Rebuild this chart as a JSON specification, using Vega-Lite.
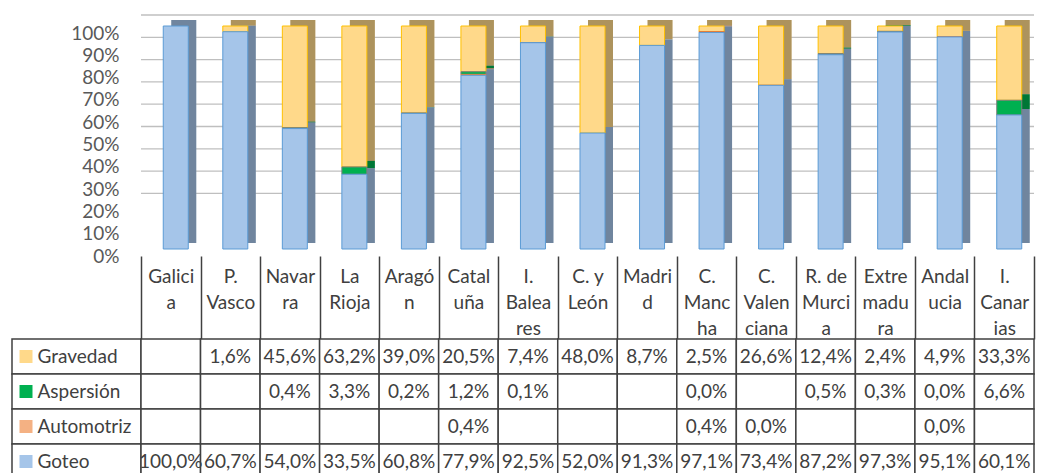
{
  "$schema": "https://vega.github.io/schema/vega-lite/v6.json",
  "background": "white",
  "padding": {"left": 11, "top": 14, "right": 5, "bottom": 0},
  "columns": 2,
  "spacing": {"row": 90, "column": 0},
  "bounds": "flush",
  "datasets": {
    "d": [
      {"region": "Galicia", "series": "Gravedad", "v": null},
      {"region": "Galicia", "series": "Aspersión", "v": null},
      {"region": "Galicia", "series": "Automotriz", "v": null},
      {"region": "Galicia", "series": "Goteo", "v": 1.0},
      {"region": "P. Vasco", "series": "Gravedad", "v": 0.016},
      {"region": "P. Vasco", "series": "Aspersión", "v": null},
      {"region": "P. Vasco", "series": "Automotriz", "v": null},
      {"region": "P. Vasco", "series": "Goteo", "v": 0.607},
      {"region": "Navarra", "series": "Gravedad", "v": 0.456},
      {"region": "Navarra", "series": "Aspersión", "v": 0.004},
      {"region": "Navarra", "series": "Automotriz", "v": null},
      {"region": "Navarra", "series": "Goteo", "v": 0.540},
      {"region": "La Rioja", "series": "Gravedad", "v": 0.632},
      {"region": "La Rioja", "series": "Aspersión", "v": 0.033},
      {"region": "La Rioja", "series": "Automotriz", "v": null},
      {"region": "La Rioja", "series": "Goteo", "v": 0.335},
      {"region": "Aragón", "series": "Gravedad", "v": 0.390},
      {"region": "Aragón", "series": "Aspersión", "v": 0.002},
      {"region": "Aragón", "series": "Automotriz", "v": null},
      {"region": "Aragón", "series": "Goteo", "v": 0.608},
      {"region": "Cataluña", "series": "Gravedad", "v": 0.205},
      {"region": "Cataluña", "series": "Aspersión", "v": 0.012},
      {"region": "Cataluña", "series": "Automotriz", "v": 0.004},
      {"region": "Cataluña", "series": "Goteo", "v": 0.779},
      {"region": "I. Baleares", "series": "Gravedad", "v": 0.074},
      {"region": "I. Baleares", "series": "Aspersión", "v": 0.001},
      {"region": "I. Baleares", "series": "Automotriz", "v": null},
      {"region": "I. Baleares", "series": "Goteo", "v": 0.925},
      {"region": "C. y León", "series": "Gravedad", "v": 0.480},
      {"region": "C. y León", "series": "Aspersión", "v": null},
      {"region": "C. y León", "series": "Automotriz", "v": null},
      {"region": "C. y León", "series": "Goteo", "v": 0.520},
      {"region": "Madrid", "series": "Gravedad", "v": 0.087},
      {"region": "Madrid", "series": "Aspersión", "v": null},
      {"region": "Madrid", "series": "Automotriz", "v": null},
      {"region": "Madrid", "series": "Goteo", "v": 0.913},
      {"region": "C. Mancha", "series": "Gravedad", "v": 0.025},
      {"region": "C. Mancha", "series": "Aspersión", "v": 0.0},
      {"region": "C. Mancha", "series": "Automotriz", "v": 0.004},
      {"region": "C. Mancha", "series": "Goteo", "v": 0.971},
      {"region": "C. Valenciana", "series": "Gravedad", "v": 0.266},
      {"region": "C. Valenciana", "series": "Aspersión", "v": null},
      {"region": "C. Valenciana", "series": "Automotriz", "v": 0.0},
      {"region": "C. Valenciana", "series": "Goteo", "v": 0.734},
      {"region": "R. de Murcia", "series": "Gravedad", "v": 0.124},
      {"region": "R. de Murcia", "series": "Aspersión", "v": 0.005},
      {"region": "R. de Murcia", "series": "Automotriz", "v": null},
      {"region": "R. de Murcia", "series": "Goteo", "v": 0.872},
      {"region": "Extremadura", "series": "Gravedad", "v": 0.024},
      {"region": "Extremadura", "series": "Aspersión", "v": 0.003},
      {"region": "Extremadura", "series": "Automotriz", "v": null},
      {"region": "Extremadura", "series": "Goteo", "v": 0.973},
      {"region": "Andalucia", "series": "Gravedad", "v": 0.049},
      {"region": "Andalucia", "series": "Aspersión", "v": 0.0},
      {"region": "Andalucia", "series": "Automotriz", "v": 0.0},
      {"region": "Andalucia", "series": "Goteo", "v": 0.951},
      {"region": "I. Canarias", "series": "Gravedad", "v": 0.333},
      {"region": "I. Canarias", "series": "Aspersión", "v": 0.066},
      {"region": "I. Canarias", "series": "Automotriz", "v": null},
      {"region": "I. Canarias", "series": "Goteo", "v": 0.601}
    ],
    "s": [
      {"series": "Gravedad"},
      {"series": "Aspersión"},
      {"series": "Automotriz"},
      {"series": "Goteo"}
    ],
    "grid": [
      {"v": 0.2}, {"v": 0.3}, {"v": 0.4}, {"v": 0.5}, {"v": 0.6},
      {"v": 0.7}, {"v": 0.8}, {"v": 0.9}, {"v": 1.0}
    ]
  },
  "concat": [
    {
      "width": 129,
      "height": 223,
      "data": {"values": [{"a": 1}]},
      "mark": {"type": "point", "opacity": 0},
      "encoding": {}
    },
    {
      "width": 893,
      "height": 223,
      "data": {"name": "d"},
      "transform": [
        {"calculate": "indexof(['Goteo','Automotriz','Aspersión','Gravedad'], datum.series)", "as": "k"}
      ],
      "layer": [
        {
          "data": {"name": "grid"},
          "mark": {"type": "rule", "yOffset": -11, "color": "#BFBFBF", "strokeWidth": 1.3},
          "encoding": {
            "y": {
              "field": "v", "type": "quantitative", "scale": {"domain": [0, 1], "nice": false},
              "axis": {
                "title": null, "format": ".0%", "values": [0, 0.1, 0.2, 0.3, 0.4, 0.5, 0.6, 0.7, 0.8, 0.9, 1],
                "domain": false, "ticks": false, "grid": false, "labelPadding": 22, "labelOffset": 7,
                "labelOverlap": false, "labelBound": false,
                "labelFont": "Lato", "labelFontSize": 19, "labelColor": "#595959"
              }
            }
          }
        },
        {
          "mark": {"type": "bar", "xOffset": 13, "yOffset": -6, "width": {"band": 0.42}},
          "encoding": {
            "x": {"field": "region", "type": "nominal", "sort": ["Galicia","P. Vasco","Navarra","La Rioja","Aragón","Cataluña","I. Baleares","C. y León","Madrid","C. Mancha","C. Valenciana","R. de Murcia","Extremadura","Andalucia","I. Canarias"], "scale": {"paddingInner": 0, "paddingOuter": 0}},
            "y": {
              "field": "v", "type": "quantitative", "stack": "normalize",
              "axis": {
                "title": null, "format": ".0%", "values": [0, 0.1, 0.2, 0.3, 0.4, 0.5, 0.6, 0.7, 0.8, 0.9, 1],
                "domain": false, "ticks": false, "grid": false, "labelPadding": 22, "labelOffset": 7,
                "labelOverlap": false, "labelBound": false,
                "labelFont": "Lato", "labelFontSize": 19, "labelColor": "#595959"
              }
            },
            "fill": {"field": "series", "type": "nominal", "scale": {"domain": ["Gravedad","Aspersión","Automotriz","Goteo"], "range": ["#FFD98A","#00B050","#F4B183","#A5C5E9"]}},
            "order": {"field": "k", "type": "quantitative"}
          }
        },
        {
          "mark": {"type": "bar", "xOffset": 13, "yOffset": -6, "width": {"band": 0.42}, "fill": "#000000", "fillOpacity": 0.32},
          "encoding": {
            "x": {"field": "region", "type": "nominal", "sort": ["Galicia","P. Vasco","Navarra","La Rioja","Aragón","Cataluña","I. Baleares","C. y León","Madrid","C. Mancha","C. Valenciana","R. de Murcia","Extremadura","Andalucia","I. Canarias"]},
            "y": {
              "field": "v", "type": "quantitative", "stack": "normalize",
              "axis": {
                "title": null, "format": ".0%", "values": [0, 0.1, 0.2, 0.3, 0.4, 0.5, 0.6, 0.7, 0.8, 0.9, 1],
                "domain": false, "ticks": false, "grid": false, "labelPadding": 22, "labelOffset": 7,
                "labelOverlap": false, "labelBound": false,
                "labelFont": "Lato", "labelFontSize": 19, "labelColor": "#595959"
              }
            },
            "detail": {"field": "series", "type": "nominal"},
            "order": {"field": "k", "type": "quantitative"}
          }
        },
        {
          "mark": {"type": "bar", "xOffset": 5, "width": {"band": 0.42}, "strokeWidth": 1},
          "encoding": {
            "x": {
              "field": "region", "type": "nominal",
              "sort": ["Galicia","P. Vasco","Navarra","La Rioja","Aragón","Cataluña","I. Baleares","C. y León","Madrid","C. Mancha","C. Valenciana","R. de Murcia","Extremadura","Andalucia","I. Canarias"],
              "axis": {
                "title": null, "orient": "bottom", "offset": 7, "domain": false,
                "ticks": true, "tickBand": "extent", "tickSize": 83, "tickColor": "#404040", "tickWidth": 1.5,
                "labelExpr": "datum.value=='Galicia'?['Galici','a']:datum.value=='P. Vasco'?['P.','Vasco']:datum.value=='Navarra'?['Navar','ra']:datum.value=='La Rioja'?['La','Rioja']:datum.value=='Aragón'?['Aragó','n']:datum.value=='Cataluña'?['Catal','uña']:datum.value=='I. Baleares'?['I.','Balea','res']:datum.value=='C. y León'?['C. y','León']:datum.value=='Madrid'?['Madri','d']:datum.value=='C. Mancha'?['C.','Manc','ha']:datum.value=='C. Valenciana'?['C.','Valen','ciana']:datum.value=='R. de Murcia'?['R. de','Murci','a']:datum.value=='Extremadura'?['Extre','madu','ra']:datum.value=='Andalucia'?['Andal','ucia']:datum.value=='I. Canarias'?['I.','Canar','ias']:''",
                "labelAngle": 0, "labelPadding": -72, "labelFont": "Lato", "labelFontSize": 19,
                "labelColor": "#404040", "labelLineHeight": 26, "labelBaseline": "top", "labelAlign": "center",
                "labelOverlap": false, "labelBound": false, "grid": false
              }
            },
            "y": {
              "field": "v", "type": "quantitative", "stack": "normalize",
              "axis": {
                "title": null, "format": ".0%", "values": [0, 0.1, 0.2, 0.3, 0.4, 0.5, 0.6, 0.7, 0.8, 0.9, 1],
                "domain": false, "ticks": false, "grid": false, "labelPadding": 22, "labelOffset": 7,
                "labelOverlap": false, "labelBound": false,
                "labelFont": "Lato", "labelFontSize": 19, "labelColor": "#595959"
              }
            },
            "fill": {"field": "series", "type": "nominal", "legend": null},
            "stroke": {
              "field": "series", "type": "nominal",
              "scale": {"domain": ["Gravedad","Aspersión","Automotriz","Goteo"], "range": ["#FFC000","#7F7F7F","#ED7D31","#5B9BD5"]},
              "legend": null
            },
            "order": {"field": "k", "type": "quantitative"}
          }
        }
      ]
    },
    {
      "width": 129,
      "height": 140,
      "data": {"name": "s"},
      "mark": {"type": "rect", "fill": "white", "stroke": "#404040", "strokeWidth": 1.5},
      "encoding": {
        "y": {
          "field": "series", "type": "nominal", "sort": ["Gravedad","Aspersión","Automotriz","Goteo"],
          "scale": {"paddingInner": 0, "paddingOuter": 0},
          "axis": {
            "title": null, "orient": "left", "offset": -20, "domain": false,
            "ticks": true, "tickSize": 13, "tickWidth": 13, "tickCap": "butt",
            "tickColor": {"condition": [
              {"test": "datum.value === 'Gravedad'", "value": "#FFD98A"},
              {"test": "datum.value === 'Aspersión'", "value": "#00B050"},
              {"test": "datum.value === 'Automotriz'", "value": "#F4B183"}
            ], "value": "#A5C5E9"},
            "labelAlign": "left", "labelPadding": -18, "labelFont": "Lato", "labelFontSize": 19,
            "labelColor": "#404040", "labelBaseline": "middle", "labelLimit": 0
          }
        }
      }
    },
    {
      "width": 893,
      "height": 140,
      "data": {"name": "d"},
      "encoding": {
        "x": {"field": "region", "type": "nominal", "sort": ["Galicia","P. Vasco","Navarra","La Rioja","Aragón","Cataluña","I. Baleares","C. y León","Madrid","C. Mancha","C. Valenciana","R. de Murcia","Extremadura","Andalucia","I. Canarias"], "scale": {"paddingInner": 0, "paddingOuter": 0}, "axis": null},
        "y": {"field": "series", "type": "nominal", "sort": ["Gravedad","Aspersión","Automotriz","Goteo"], "scale": {"paddingInner": 0, "paddingOuter": 0}, "axis": null}
      },
      "layer": [
        {"mark": {"type": "rect", "fill": "white", "stroke": "#404040", "strokeWidth": 1.5}},
        {
          "transform": [{"filter": "isValid(datum.v)"}],
          "mark": {"type": "text", "font": "Lato", "fontSize": 19, "color": "#404040", "align": "center", "baseline": "middle"},
          "encoding": {"text": {"field": "v", "type": "quantitative", "format": ".1%"}}
        }
      ]
    }
  ],
  "resolve": {"scale": {"x": "independent", "y": "independent"}},
  "config": {
    "view": {"stroke": null},
    "font": "Lato",
    "locale": {"number": {"decimal": ",", "thousands": ".", "grouping": [3], "currency": ["", " €"]}}
  }
}
